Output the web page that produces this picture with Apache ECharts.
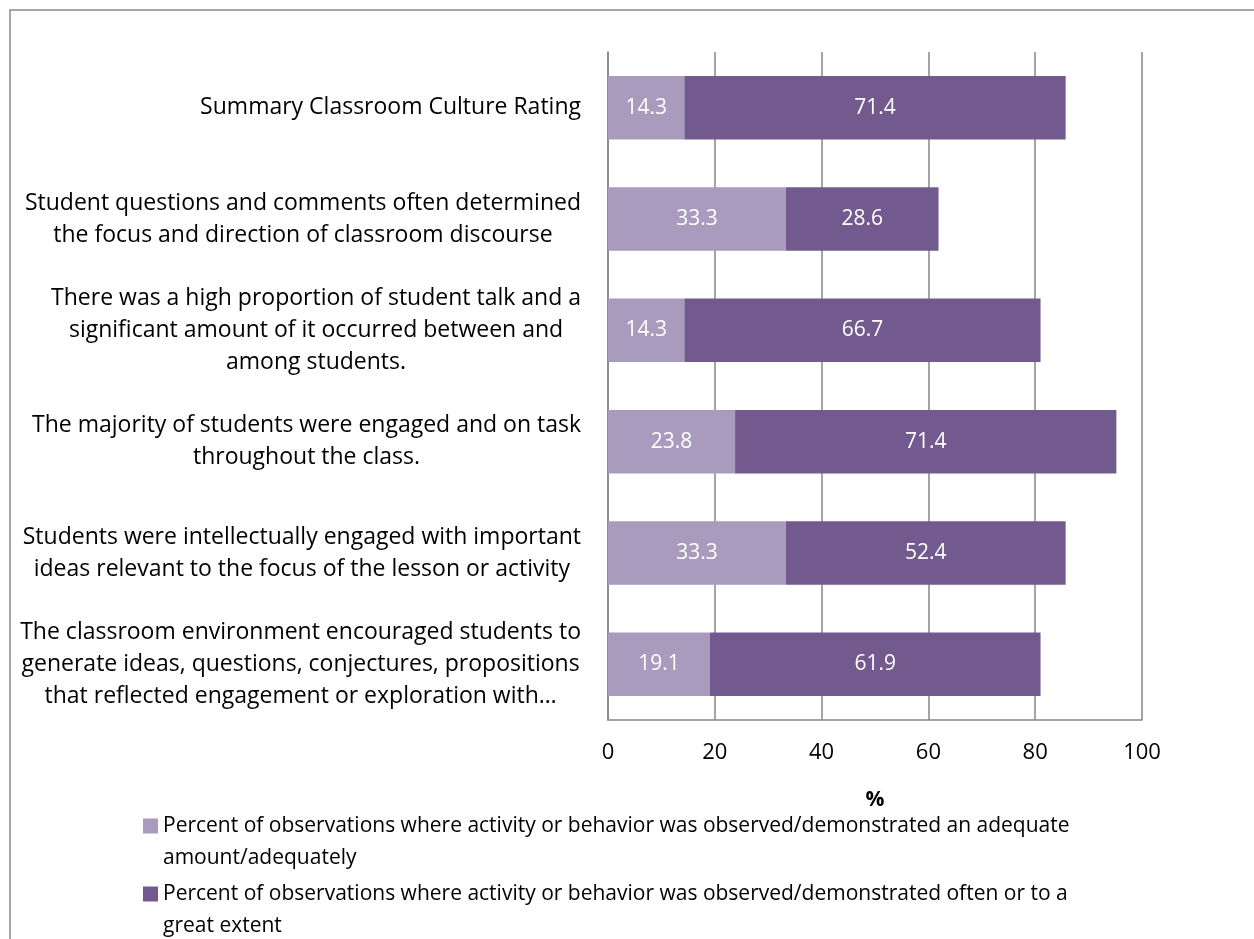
<!DOCTYPE html>
<html>
<head>
<meta charset="utf-8">
<style>
  html, body { margin: 0; padding: 0; background: #fff; }
  #chart { width: 1254px; height: 939px; }
</style>
<script src="https://cdn.jsdelivr.net/npm/echarts@6/dist/echarts.min.js"></script>
</head>
<body>
<div id="chart"></div>
<script>
// categories, top to bottom
const categories = [
  'Summary Classroom Culture Rating',
  'Student questions and comments often determined\nthe focus and direction of classroom discourse',
  'There was a high proportion of student talk and a\nsignificant amount of it occurred between and\namong students.',
  'The majority of students were engaged and on task\nthroughout the class.',
  'Students were intellectually engaged with important\nideas relevant to the focus of the lesson or activity',
  'The classroom environment encouraged students to\ngenerate ideas, questions, conjectures, propositions\nthat reflected engagement or exploration with…'
];
const adequateValues = [14.3, 33.3, 14.3, 23.8, 33.3, 19.1];
const oftenValues = [71.4, 28.6, 66.7, 71.4, 52.4, 61.9];
const seriesNames = [
  'Percent of observations where activity or behavior was observed/demonstrated an adequate amount/adequately',
  'Percent of observations where activity or behavior was observed/demonstrated often or to a great extent'
];
// legend line breaks as in the picture
const legendLines = {};
legendLines[seriesNames[0]] = 'Percent of observations where activity or behavior was observed/demonstrated an adequate\namount/adequately';
legendLines[seriesNames[1]] = 'Percent of observations where activity or behavior was observed/demonstrated often or to a\ngreat extent';
const xTicks = [0, 100, 20];

const FONT = 'Open Sans';
const chart = echarts.init(document.getElementById('chart'));

const barLabel = {
  show: true,
  position: 'inside',
  color: '#fff',
  fontFamily: FONT,
  fontSize: 21,
  formatter: function (p) { return p.value.toFixed(1); }
};

chart.setOption({
  animation: false,
  textStyle: { fontFamily: FONT },
  graphic: [{
    type: 'rect',
    shape: { x: 10, y: 10, width: 1400, height: 1100 },
    style: { fill: 'none', stroke: '#898989', lineWidth: 1.5 },
    silent: true
  }],
  grid: { left: 608, right: 112, top: 52, bottom: 219 },
  legend: {
    orient: 'vertical',
    left: 143,
    top: 778,
    height: 300,
    padding: 0,
    itemWidth: 15,
    itemHeight: 15,
    itemGap: -28,
    icon: 'rect',
    data: seriesNames,
    // leading empty line keeps the icon level with the first text line
    formatter: function (name) { return '\n' + legendLines[name]; },
    textStyle: {
      fontFamily: FONT,
      fontSize: 21,
      color: '#000',
      lineHeight: 32
    }
  },
  xAxis: {
    type: 'value',
    min: xTicks[0],
    max: xTicks[1],
    interval: xTicks[2],
    name: '%',
    nameLocation: 'middle',
    nameGap: 70,
    nameTextStyle: { fontFamily: FONT, fontSize: 21, fontWeight: 'bold', color: '#000' },
    axisLine: { show: true, lineStyle: { color: '#868686', width: 1.5 } },
    axisTick: { show: false },
    axisLabel: { color: '#000', fontFamily: FONT, fontSize: 22, margin: 22 },
    splitLine: { show: true, lineStyle: { color: '#868686', width: 1.5 } }
  },
  yAxis: {
    type: 'category',
    data: categories,
    inverse: true,
    axisLine: { show: true, lineStyle: { color: '#868686', width: 1.5 } },
    axisTick: { show: false },
    axisLabel: {
      margin: 27,
      align: 'right',
      formatter: function (v) {
        return v.split('\n').map(function (l) { return '{c|' + l + '}'; }).join('\n');
      },
      rich: {
        c: { align: 'center', fontFamily: FONT, fontSize: 23, color: '#000', lineHeight: 32 }
      }
    }
  },
  series: [
    {
      name: seriesNames[0],
      type: 'bar',
      stack: 'total',
      barWidth: '57%',
      data: adequateValues,
      itemStyle: { color: '#A99BBD' },
      label: barLabel
    },
    {
      name: seriesNames[1],
      type: 'bar',
      stack: 'total',
      barWidth: '57%',
      data: oftenValues,
      itemStyle: { color: '#725A8E' },
      label: barLabel
    }
  ]
});
</script>
</body>
</html>
